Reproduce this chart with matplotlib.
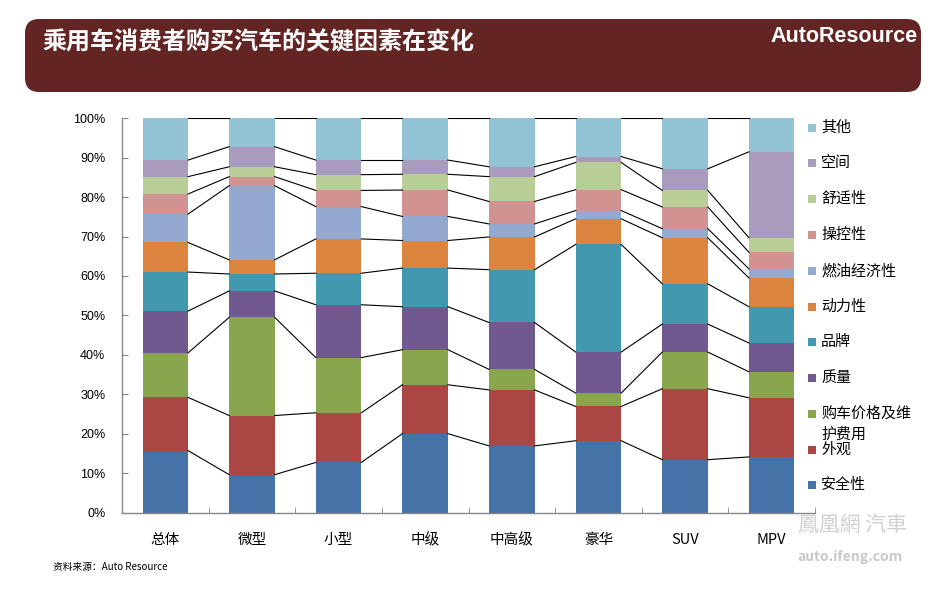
import matplotlib
matplotlib.use("Agg")
import matplotlib.pyplot as plt
from matplotlib.patches import FancyBboxPatch, Rectangle
import numpy as np

plt.rcParams['font.family'] = ['Noto Sans CJK SC', 'DejaVu Sans']

categories = ["总体", "微型", "小型", "中级", "中高级", "豪华", "SUV", "MPV"]
series_names = ["安全性", "外观", "购车价格及维护费用", "质量", "品牌", "动力性",
                "燃油经济性", "操控性", "舒适性", "空间", "其他"]
safety = [15.7, 9.6, 12.7, 20.0, 16.9, 18.2, 13.4, 14.1]
looks = [13.5, 15.0, 12.6, 12.4, 14.2, 8.7, 18.0, 15.0]
price = [11.3, 24.9, 14.0, 8.9, 5.2, 3.4, 9.3, 6.6]
quality = [10.6, 6.7, 13.4, 10.9, 11.9, 10.4, 7.1, 7.3]
brand = [9.9, 4.3, 8.0, 9.8, 13.4, 27.3, 10.2, 9.2]
power = [7.5, 3.6, 8.7, 7.0, 8.3, 6.5, 11.7, 7.3]
fuel = [7.2, 18.8, 8.2, 6.1, 3.3, 2.1, 2.3, 2.3]
handling = [5.1, 2.3, 4.1, 6.7, 5.7, 5.3, 5.5, 4.2]
comfort = [4.4, 2.5, 4.0, 4.0, 6.3, 6.9, 4.2, 3.7]
space = [4.2, 5.1, 3.7, 3.6, 2.5, 1.5, 5.5, 21.8]
other = [10.6, 7.2, 10.6, 10.6, 12.3, 9.7, 12.8, 8.5]
yticklabels = ["0%", "10%", "20%", "30%", "40%", "50%", "60%", "70%", "80%", "90%", "100%"]

series = [safety, looks, price, quality, brand, power, fuel, handling, comfort, space, other]
colors = ["#4572A7", "#AA4643", "#89A54E", "#71588F", "#4198AF", "#DB843D",
          "#93A9CF", "#D19392", "#B9CD96", "#A99BBD", "#92C3D4"]

W, H = 947, 593
fig = plt.figure(figsize=(W / 100, H / 100), dpi=100)
fig.patch.set_facecolor("white")

# header banner
banner = FancyBboxPatch((25 / W, 1 - 92 / H), (921 - 25) / W, (92 - 19) / H,
                        boxstyle="round,pad=0,rounding_size=0.015",
                        transform=fig.transFigure, facecolor="#632523",
                        edgecolor="none", mutation_aspect=W / H)
fig.patches.append(banner)
fig.text(42 / W, 1 - 42 / H, "乘用车消费者购买汽车的关键因素在变化", color="white",
         fontsize=17.3, fontweight="bold", va="center", ha="left")
fig.text(918 / W, 1 - 36 / H, "AutoResource", color="white", fontsize=15.5,
         fontweight="bold", va="center", ha="right", family="Liberation Sans")

ax = fig.add_axes([122 / W, 1 - 512.5 / H, (815 - 122) / W, (512.5 - 118.3) / H])
x = np.arange(len(categories))
width = 0.525
bottom = np.zeros(len(categories))
tops = []
for vals, c, name in zip(series, colors, series_names):
    v = np.array(vals) / 100.0
    ax.bar(x, v, width, bottom=bottom, color=c, edgecolor="none", label=name, zorder=2)
    bottom = bottom + v
    tops.append(bottom.copy())

# series lines
for t in tops:
    for i in range(len(categories) - 1):
        ax.plot([x[i] + width / 2, x[i + 1] - width / 2], [t[i], t[i + 1]],
                color="black", lw=0.8, zorder=3)

ax.set_xlim(-0.5, len(categories) - 0.5)
ax.set_ylim(0, 1.0)
ax.set_yticks(np.linspace(0, 1, 11))
ax.set_yticklabels(yticklabels, fontsize=9, family="Liberation Sans")
ax.set_xticks(x)
ax.set_xticklabels(categories, fontsize=10.5)
ax.set_xticks(np.arange(-0.5, len(categories) + 0.5, 1), minor=True)
ax.tick_params(axis="x", which="major", length=0, pad=15)
ax.tick_params(axis="x", which="minor", length=4, direction="in", color="#868686")
ax.tick_params(axis="y", length=4, direction="in", color="#868686", pad=12)
for s in ["top", "right"]:
    ax.spines[s].set_visible(False)
for s in ["left", "bottom"]:
    ax.spines[s].set_color("#868686")
    ax.spines[s].set_linewidth(1.0)

# legend (manual, top-to-bottom reversed)
leg_y = [128, 163, 199, 235, 271, 307, 342, 378, 414, 450, 485]
leg_labels = ["其他", "空间", "舒适性", "操控性", "燃油经济性", "动力性", "品牌", "质量",
              "购车价格及维\n护费用", "外观", "安全性"]
leg_colors = colors[::-1]
for yy, lab, c in zip(leg_y, leg_labels, leg_colors):
    fig.patches.append(Rectangle((808 / W, 1 - (yy + 4) / H), 8 / W, 8 / H,
                                 transform=fig.transFigure, facecolor=c, edgecolor="none"))
    fig.text(821 / W, 1 - yy / H, lab.split("\n")[0], fontsize=10.8, va="center", ha="left")
    if "\n" in lab:
        fig.text(821 / W, 1 - (yy + 21) / H, lab.split("\n")[1], fontsize=10.8,
                 va="center", ha="left")

# source
fig.text(53 / W, 1 - 567 / H, "资料来源：Auto Resource", fontsize=7, va="center", ha="left")

# watermark
fig.text(852 / W, 1 - 525 / H, "鳳凰網 汽車", fontsize=15, color="#d0d0d0",
         va="center", ha="center", family=["Noto Sans CJK TC", "DejaVu Sans"])
fig.text(850 / W, 1 - 557 / H, "auto.ifeng.com", fontsize=10, color="#c8c8c8",
         va="center", ha="center", fontweight="bold")

fig.savefig("out.png", dpi=100)
